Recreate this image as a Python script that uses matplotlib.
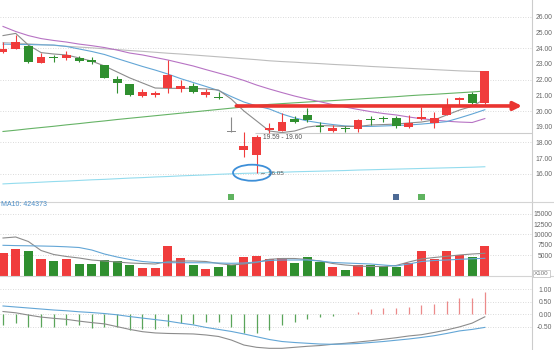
import numpy as np
import matplotlib
matplotlib.use("Agg")
import matplotlib.pyplot as plt
from matplotlib.patches import Ellipse
from matplotlib.lines import Line2D

plt.rcParams['font.family'] = ['Liberation Sans', 'DejaVu Sans']

# daily candles
opens = [23.73, 23.96, 24.15, 23.07, 23.36, 23.35, 23.38, 23.24, 22.92, 22.03,
         21.70, 20.97, 21.02, 21.44, 21.38, 21.61, 21.03, 20.91, 18.69, 17.52,
         17.21, 18.79, 18.73, 19.47, 19.75, 19.02, 18.73, 18.87, 18.84, 19.44,
         19.50, 19.55, 19.00, 19.47, 19.22, 19.75, 20.70, 21.06, 20.49]
closes = [23.92, 24.36, 23.13, 23.41, 23.34, 23.56, 23.17, 23.11, 22.11, 21.80,
          21.02, 21.19, 21.12, 22.27, 21.59, 21.19, 21.19, 20.81, 18.69, 17.78,
          18.37, 18.90, 19.28, 19.30, 19.43, 18.98, 18.90, 18.85, 19.43, 19.42,
          19.48, 19.05, 19.26, 19.60, 19.54, 20.38, 20.84, 20.49, 22.54]
highs = [24.40, 24.84, 24.18, 23.70, 23.56, 23.83, 23.49, 23.41, 22.95, 22.22,
         21.72, 21.38, 21.29, 23.24, 21.97, 21.80, 21.38, 21.23, 19.64, 18.69,
         18.48, 19.22, 19.85, 19.68, 20.21, 19.32, 19.10, 19.05, 19.50, 19.68,
         19.68, 19.70, 19.75, 20.27, 19.96, 20.84, 20.86, 21.23, 22.54]
lows = [23.68, 23.93, 23.03, 23.04, 23.13, 23.24, 23.11, 22.98, 22.09, 21.12,
        20.98, 20.91, 20.91, 21.12, 21.22, 21.14, 20.91, 20.74, 18.69, 17.06,
        16.04, 18.58, 18.70, 19.22, 19.32, 18.69, 18.69, 18.69, 18.69, 19.11,
        19.32, 18.90, 18.90, 19.45, 18.90, 19.73, 20.38, 20.45, 20.45]

# moving averages
ma5 = [24.79, 24.93, 24.19, 23.71, 23.62, 23.56, 23.37, 23.17, 22.86, 22.48,
       22.10, 21.78, 21.46, 21.44, 21.44, 21.44, 21.40, 21.33, 20.76, 20.00,
       19.37, 18.73, 18.63, 18.73, 18.98, 19.08, 19.05, 19.02, 19.02, 19.11,
       19.14, 19.17, 19.24, 19.30, 19.43, 19.75, 20.06, 20.30, 20.76]
ma10 = [24.25, 24.23, 24.22, 24.20, 24.19, 24.10, 23.94, 23.78, 23.59, 23.33,
        23.08, 22.83, 22.60, 22.35, 22.06, 21.81, 21.56, 21.30, 20.92, 20.57,
        20.32, 20.13, 19.81, 19.56, 19.37, 19.24, 19.14, 19.05, 19.02, 19.02,
        19.05, 19.08, 19.11, 19.17, 19.24, 19.33, 19.56, 19.81, 20.08]
ma20 = [25.37, 25.05, 24.79, 24.60, 24.48, 24.38, 24.25, 24.15, 24.03, 23.87,
        23.68, 23.56, 23.40, 23.24, 23.05, 22.86, 22.63, 22.41, 22.19, 21.94,
        21.65, 21.40, 21.17, 20.95, 20.76, 20.59, 20.41, 20.25, 20.10, 19.96,
        19.84, 19.75, 19.62, 19.51, 19.43, 19.35, 19.30, 19.27, 19.52]
ma_silver = [24.35, 24.31, 24.27, 24.22, 24.17, 24.11, 24.06, 24.01, 23.95, 23.90,
             23.84, 23.79, 23.73, 23.67, 23.62, 23.56, 23.50, 23.44, 23.38, 23.32,
             23.26, 23.19, 23.14, 23.10, 23.05, 23.01, 22.96, 22.92, 22.88, 22.83,
             22.79, 22.75, 22.71, 22.67, 22.63, 22.59, 22.55, 22.52, 22.50]
ma_green = [18.70, 18.78, 18.87, 18.95, 19.03, 19.12, 19.20, 19.29, 19.37, 19.46,
            19.54, 19.62, 19.70, 19.78, 19.86, 19.94, 20.02, 20.10, 20.18, 20.26,
            20.34, 20.42, 20.47, 20.52, 20.57, 20.62, 20.66, 20.71, 20.76, 20.81,
            20.86, 20.91, 20.97, 21.02, 21.06, 21.11, 21.16, 21.21, 21.27]
ma_cyan = [15.37, 15.41, 15.44, 15.48, 15.52, 15.55, 15.59, 15.63, 15.66, 15.70,
           15.74, 15.77, 15.81, 15.84, 15.88, 15.91, 15.94, 15.98, 16.01, 16.04,
           16.06, 16.09, 16.11, 16.14, 16.16, 16.18, 16.20, 16.22, 16.25, 16.27,
           16.29, 16.31, 16.33, 16.35, 16.37, 16.39, 16.41, 16.43, 16.46]

# volume (x100)
volume = [5450, 6560, 6010, 4010, 3680, 4170, 2890, 2890, 3770, 3680,
          2640, 2000, 2000, 7210, 4330, 2720, 1760, 2160, 2570, 4570,
          4880, 4010, 4330, 3200, 4570, 3280, 2240, 1520, 2720, 2640,
          2480, 2160, 3120, 6010, 4090, 5930, 5050, 4570, 7210]
vol_ma5 = [9135, 9376, 8294, 6130, 5169, 4688, 4327, 3846, 3606, 3366,
           3125, 3005, 2885, 3486, 3606, 3606, 3486, 3005, 2644, 2885,
           3245, 4015, 4207, 4207, 3967, 3606, 3005, 2644, 2404, 2284,
           2284, 2524, 3366, 4087, 4447, 4736, 5048, 5289, 5457]
vol_ma10 = [7380, 7308, 7260, 7212, 7140, 7020, 6851, 6250, 5289, 4568,
            3967, 3486, 3245, 3197, 3197, 3197, 3173, 3125, 3053, 3125,
            3366, 3726, 3846, 3846, 3846, 3606, 3245, 3125, 3005, 2885,
            2644, 2404, 2885, 3486, 3726, 3846, 4015, 4135, 4255]

# MACD
dif = [0.11, 0.06, -0.03, -0.11, -0.16, -0.20, -0.27, -0.33, -0.38, -0.49,
       -0.60, -0.69, -0.74, -0.76, -0.77, -0.78, -0.82, -0.88, -1.02, -1.22,
       -1.31, -1.35, -1.35, -1.31, -1.27, -1.24, -1.19, -1.15, -1.10, -1.05,
       -0.99, -0.93, -0.86, -0.81, -0.72, -0.62, -0.50, -0.35, -0.10]
dea = [0.33, 0.29, 0.25, 0.21, 0.17, 0.14, 0.10, 0.07, 0.03, -0.02,
       -0.09, -0.15, -0.21, -0.27, -0.35, -0.42, -0.52, -0.60, -0.68, -0.78,
       -0.89, -1.00, -1.08, -1.12, -1.15, -1.18, -1.19, -1.18, -1.16, -1.12,
       -1.08, -1.03, -0.98, -0.92, -0.85, -0.76, -0.66, -0.60, -0.52]
macd_hist = [-0.44, -0.36, -0.49, -0.52, -0.49, -0.42, -0.42, -0.56, -0.49, -0.52,
             -0.62, -0.60, -0.60, -0.48, -0.34, -0.37, -0.30, -0.30, -0.50, -0.73,
             -0.76, -0.62, -0.43, -0.30, -0.17, -0.10, -0.05, 0.0, 0.09, 0.20,
             0.26, 0.26, 0.29, 0.36, 0.40, 0.53, 0.66, 0.66, 0.89]

price_ticks = [16, 17, 18, 19, 20, 21, 22, 23, 24, 25, 26]
vol_ticks = [5000, 7500, 10000, 12500, 15000]
macd_ticks = [1.0, 0.5, 0.0, -0.5]

RED = '#f03c3c'
GREEN = '#2f8f2f'
GRAY = '#8a8a8a'
GRID = '#cfcfcf'

W, H = 554, 350
RIGHT = 532
fig = plt.figure(figsize=(W / 100, H / 100), dpi=100)


def axes_px(top, bottom):
    return fig.add_axes([0, 1 - bottom / H, RIGHT / W, (bottom - top) / H])


ax_p = axes_px(0, 201.7)
ax_v = axes_px(201.7, 276)
ax_m = axes_px(276, 350)

n = len(closes)
x = np.arange(n)
for ax in (ax_p, ax_v, ax_m):
    ax.set_xlim(-0.237, 41.72)
    ax.set_xticks([])
    for s in ax.spines.values():
        s.set_visible(False)
    ax.spines['right'].set_visible(True)
    ax.spines['right'].set_color('#cccccc')
    ax.spines['right'].set_linewidth(0.8)
    ax.yaxis.tick_right()
    ax.tick_params(axis='y', length=0, labelsize=4.9, labelcolor='#666666')
    ax.patch.set_alpha(0)

# ---- price panel
ax_p.set_ylim(14.24, 27.05)
for v in range(16, 27, 2):
    ax_p.axhline(v, color=GRID, lw=0.6, ls=(0, (1, 2)), zorder=0)
ax_p.set_yticks(price_ticks)
ax_p.set_yticklabels([f"{v:.2f}" for v in price_ticks])
ax_p.tick_params(axis='y', pad=2.5)

ax_p.plot(x, ma_cyan, color='#93dcee', lw=0.8)
ax_p.plot(x, ma_green, color='#66b366', lw=0.8)
ax_p.plot(x, ma_silver, color='#bdbdbd', lw=0.8)
ax_p.plot(x, ma20, color='#b773c4', lw=0.8)
ax_p.plot(x, ma10, color='#63a6d6', lw=0.8)
ax_p.plot(x, ma5, color='#8c8c8c', lw=0.8)

# horizontal level line with its label
ax_p.hlines(18.60, 19.9, 41.72, color='#cccccc', lw=0.8)
ax_p.text(20.5, 18.33, "19.59 - 19.60", fontsize=4.8, color='#555555', va='center')

for i in range(n):
    o, c = opens[i], closes[i]
    col = RED if c > o else GREEN if c < o else GRAY
    ax_p.vlines(i, lows[i], highs[i], color=col, lw=0.8, zorder=3)
    ax_p.bar(i, max(abs(c - o), 0.06), bottom=min(o, c), width=0.7,
             color=col, lw=0, zorder=4)

# red arrow
ax_p.annotate('', xy=(40.93, 20.32), xytext=(18.4, 20.32),
              arrowprops=dict(arrowstyle='-|>', color='#ea3430', lw=2.6,
                              mutation_scale=12, shrinkA=0, shrinkB=0),
              zorder=5)

# low marker
ax_p.add_patch(Ellipse((19.64, 16.08), 3.0, 1.02, fill=False,
                       ec='#3d8fd8', lw=1.3, zorder=6))
ax_p.text(20.25, 16.06, "\u2190 16.05", fontsize=4.5, color='#555555',
          va='center', zorder=6)

# event icons
ax_p.scatter([18.0, 31.0, 33.0], [14.54] * 3, marker='s', s=20,
             c=['#5fb35f', '#4d6a95', '#5fb35f'], lw=0, zorder=6)

# ---- volume panel
ax_v.set_ylim(0, 17862)
for v in (5000, 10000, 15000):
    ax_v.axhline(v, color=GRID, lw=0.6, ls=(0, (1, 2)), zorder=0)
vcol = [RED if closes[i] > opens[i] else GREEN for i in range(n)]
ax_v.bar(x, volume, width=0.72, color=vcol, lw=0)
ax_v.plot(x, vol_ma5, color='#8c8c8c', lw=0.8)
ax_v.plot(x, vol_ma10, color='#63a6d6', lw=0.8)
ax_v.set_yticks(vol_ticks)
ax_v.set_yticklabels([str(v) for v in vol_ticks])
ax_v.tick_params(axis='y', pad=14.6)
for t in ax_v.yaxis.get_major_ticks():
    t.label2.set_horizontalalignment('right')

# ---- MACD panel
ax_m.set_ylim(-1.417, 1.52)
for v in macd_ticks:
    ax_m.axhline(v, color=GRID, lw=0.6, ls=(0, (1, 2)), zorder=0)
hcol = ['#ec8a8a' if h > 0 else '#5aa55a' for h in macd_hist]
ax_m.vlines(x, 0, macd_hist, colors=hcol, lw=0.9)
ax_m.plot(x, dif, color='#8c8c8c', lw=0.8)
ax_m.plot(x, dea, color='#63a6d6', lw=0.8)
ax_m.set_yticks(macd_ticks)
ax_m.set_yticklabels([f"{v:.2f}" for v in macd_ticks])
ax_m.tick_params(axis='y', pad=14.2)
for t in ax_m.yaxis.get_major_ticks():
    t.label2.set_horizontalalignment('right')

# panel separators
for ypx in (201.7, 276):
    fig.add_artist(Line2D([0, 1], [1 - ypx / H] * 2, transform=fig.transFigure,
                          color='#d4d4d4', lw=0.8))

fig.text(1 / W, 1 - 204.5 / H, "MA10: 424373", fontsize=5, color='#4b8ec8',
         va='center')
fig.text(534 / W, 1 - 273.6 / H, "X100", fontsize=4.5, color='#777777',
         va='center', bbox=dict(boxstyle='square,pad=0.15', fc='white',
                                ec='#bbbbbb', lw=0.5))

fig.savefig("out.png", dpi=100)
